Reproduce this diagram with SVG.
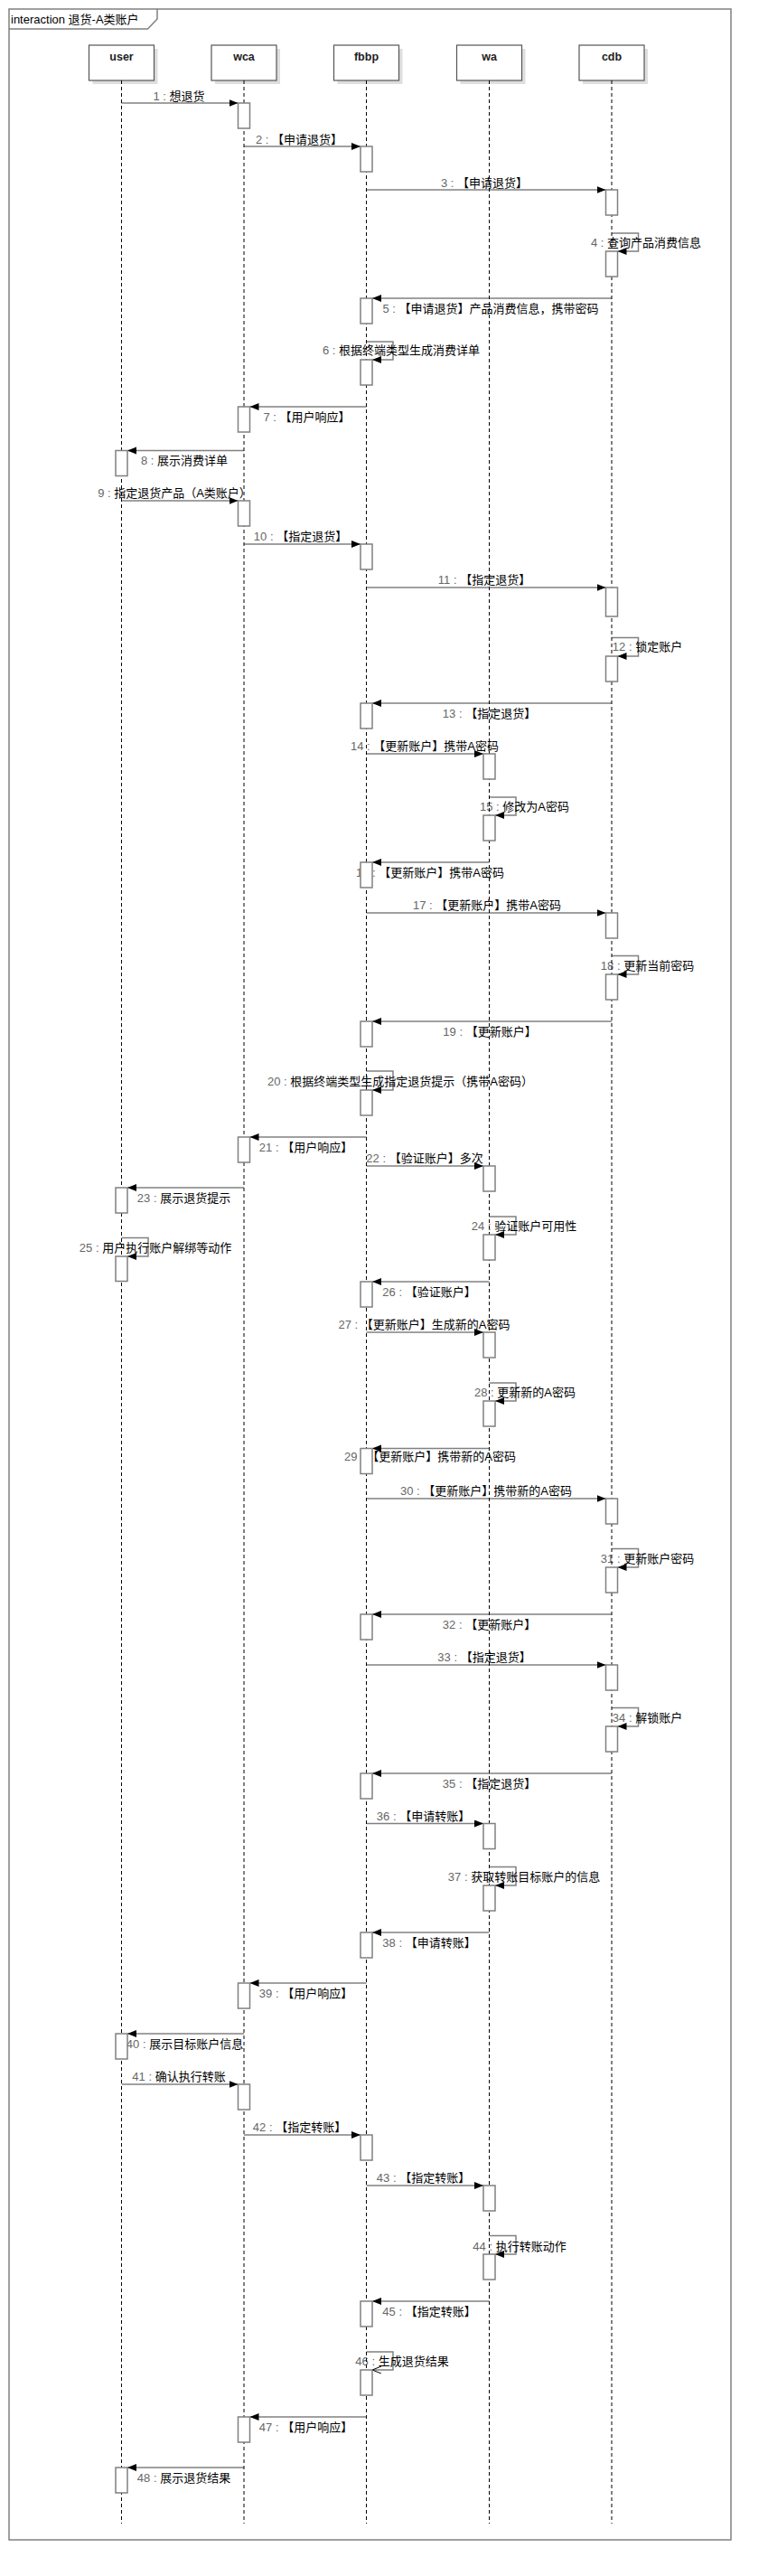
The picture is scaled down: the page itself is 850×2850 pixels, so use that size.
<svg xmlns="http://www.w3.org/2000/svg" width="850" height="2850" viewBox="0 0 850 2850">
<style>
.frame{fill:none;stroke:#808080;stroke-width:1.5}
.head{fill:#fff;stroke:#555;stroke-width:1.2}
.shadow{fill:#dedede}
.hname{font-family:"Liberation Sans","Noto Sans CJK SC",sans-serif;font-size:12.5px;font-weight:bold;fill:#222;text-anchor:middle}
.life{stroke:#000;stroke-width:1;stroke-dasharray:4,3;fill:none}
.act{fill:#fff;stroke:#808080;stroke-width:1.5}
.msg{stroke:#808080;stroke-width:1.5;fill:none;marker-end:url(#ah)}
.msgo{stroke:#808080;stroke-width:1.5;fill:none;marker-end:url(#ao)}
.lbl{font-family:"Liberation Sans","Noto Sans CJK SC",sans-serif;font-size:13px;fill:#000;text-anchor:middle}
.n{fill:#666}
.title{font-family:"Liberation Sans","Noto Sans CJK SC",sans-serif;font-size:13px;fill:#000}
</style>
<defs>
<marker id="ah" markerUnits="userSpaceOnUse" markerWidth="11" markerHeight="9" refX="10" refY="4" orient="auto"><path d="M0,0 L10,4 L0,8 z" fill="#000"/></marker>
<marker id="ao" markerUnits="userSpaceOnUse" markerWidth="11" markerHeight="9" refX="10" refY="4" orient="auto"><path d="M0,0 L10,4 L0,8" fill="none" stroke="#000" stroke-width="1"/></marker>
</defs>
<rect width="850" height="2850" fill="#fff"/>
<g id="frame">
<rect class="frame" x="10" y="10" width="799" height="2800"/>
<path class="frame" d="M10,32 H163.5 L174,21 V10"/>
<text class="title" x="12" y="26">interaction 退货-A类账户</text>
</g>
<g id="connectors">
<line class="msg" x1="134.5" y1="114" x2="263.5" y2="114"/>
<text class="lbl" x="198" y="110.5"><tspan class="n">1 : </tspan>想退货</text>
<line class="msg" x1="270" y1="162" x2="399" y2="162"/>
<text class="lbl" x="331" y="158.5"><tspan class="n">2 : </tspan>【申请退货】</text>
<line class="msg" x1="405.5" y1="210" x2="670.5" y2="210"/>
<text class="lbl" x="536" y="206.5"><tspan class="n">3 : </tspan>【申请退货】</text>
<path class="msg" d="M677,258 H706.5 V278 H683.5"/>
<text class="lbl" x="715" y="272.5"><tspan class="n">4 : </tspan>查询产品消费信息</text>
<line class="msg" x1="677" y1="330" x2="412" y2="330"/>
<text class="lbl" x="543" y="346"><tspan class="n">5 : </tspan>【申请退货】产品消费信息，携带密码</text>
<path class="msg" d="M405.5,378 H435 V398 H412"/>
<text class="lbl" x="444" y="392"><tspan class="n">6 : </tspan>根据终端类型生成消费详单</text>
<line class="msg" x1="405.5" y1="450" x2="276.5" y2="450"/>
<text class="lbl" x="339.5" y="466"><tspan class="n">7 : </tspan>【用户响应】</text>
<line class="msg" x1="270" y1="498.5" x2="141" y2="498.5"/>
<text class="lbl" x="204" y="513.5"><tspan class="n">8 : </tspan>展示消费详单</text>
<line class="msg" x1="134.5" y1="554" x2="263.5" y2="554"/>
<text class="lbl" x="193" y="550"><tspan class="n">9 : </tspan>指定退货产品（A类账户）</text>
<line class="msg" x1="270" y1="602" x2="399" y2="602"/>
<text class="lbl" x="332.5" y="598"><tspan class="n">10 : </tspan>【指定退货】</text>
<line class="msg" x1="405.5" y1="650" x2="670.5" y2="650"/>
<text class="lbl" x="536" y="646"><tspan class="n">11 : </tspan>【指定退货】</text>
<path class="msg" d="M677,705.5 H706.5 V726 H683.5"/>
<text class="lbl" x="716.5" y="720"><tspan class="n">12 : </tspan>锁定账户</text>
<line class="msg" x1="677" y1="778" x2="412" y2="778"/>
<text class="lbl" x="541.5" y="794"><tspan class="n">13 : </tspan>【指定退货】</text>
<line class="msg" x1="405.5" y1="834" x2="535" y2="834"/>
<text class="lbl" x="470" y="830"><tspan class="n">14 : </tspan>【更新账户】携带A密码</text>
<path class="msg" d="M541.5,882 H571 V902 H548"/>
<text class="lbl" x="580.5" y="897"><tspan class="n">15 : </tspan>修改为A密码</text>
<line class="msg" x1="541.5" y1="954" x2="412" y2="954"/>
<text class="lbl" x="476" y="969.5"><tspan class="n">16 : </tspan>【更新账户】携带A密码</text>
<line class="msg" x1="405.5" y1="1010" x2="670.5" y2="1010"/>
<text class="lbl" x="539" y="1006"><tspan class="n">17 : </tspan>【更新账户】携带A密码</text>
<path class="msg" d="M677,1057.5 H706.5 V1078 H683.5"/>
<text class="lbl" x="716.5" y="1073"><tspan class="n">18 : </tspan>更新当前密码</text>
<line class="msg" x1="677" y1="1130" x2="412" y2="1130"/>
<text class="lbl" x="542" y="1145.5"><tspan class="n">19 : </tspan>【更新账户】</text>
<path class="msg" d="M405.5,1185 H435 V1206 H412"/>
<text class="lbl" x="443" y="1201"><tspan class="n">20 : </tspan>根据终端类型生成指定退货提示（携带A密码）</text>
<line class="msg" x1="405.5" y1="1258" x2="276.5" y2="1258"/>
<text class="lbl" x="338.5" y="1274"><tspan class="n">21 : </tspan>【用户响应】</text>
<line class="msg" x1="405.5" y1="1290" x2="535" y2="1290"/>
<text class="lbl" x="470" y="1286"><tspan class="n">22 : </tspan>【验证账户】多次</text>
<line class="msg" x1="270" y1="1314" x2="141" y2="1314"/>
<text class="lbl" x="203.5" y="1330"><tspan class="n">23 : </tspan>展示退货提示</text>
<path class="msg" d="M541.5,1346 H571 V1366 H548"/>
<text class="lbl" x="580" y="1361"><tspan class="n">24 : </tspan>验证账户可用性</text>
<path class="msg" d="M134.5,1369.5 H164 V1390 H141"/>
<text class="lbl" x="172" y="1384.5"><tspan class="n">25 : </tspan>用户执行账户解绑等动作</text>
<line class="msg" x1="541.5" y1="1418" x2="412" y2="1418"/>
<text class="lbl" x="475" y="1434"><tspan class="n">26 : </tspan>【验证账户】</text>
<line class="msg" x1="405.5" y1="1474" x2="535" y2="1474"/>
<text class="lbl" x="469.5" y="1470"><tspan class="n">27 : </tspan>【更新账户】生成新的A密码</text>
<path class="msg" d="M541.5,1530 H571 V1550 H548"/>
<text class="lbl" x="581" y="1544.5"><tspan class="n">28 : </tspan>更新新的A密码</text>
<line class="msg" x1="541.5" y1="1602.5" x2="412" y2="1602.5"/>
<text class="lbl" x="476" y="1615.5"><tspan class="n">29 : </tspan>【更新账户】携带新的A密码</text>
<line class="msg" x1="405.5" y1="1658" x2="670.5" y2="1658"/>
<text class="lbl" x="538" y="1653.5"><tspan class="n">30 : </tspan>【更新账户】携带新的A密码</text>
<path class="msg" d="M677,1713.5 H706.5 V1734 H683.5"/>
<text class="lbl" x="716.5" y="1729"><tspan class="n">31 : </tspan>更新账户密码</text>
<line class="msg" x1="677" y1="1786" x2="412" y2="1786"/>
<text class="lbl" x="541.5" y="1802"><tspan class="n">32 : </tspan>【更新账户】</text>
<line class="msg" x1="405.5" y1="1842" x2="670.5" y2="1842"/>
<text class="lbl" x="536" y="1837.5"><tspan class="n">33 : </tspan>【指定退货】</text>
<path class="msg" d="M677,1889.5 H706.5 V1910 H683.5"/>
<text class="lbl" x="716.5" y="1904.5"><tspan class="n">34 : </tspan>解锁账户</text>
<line class="msg" x1="677" y1="1962" x2="412" y2="1962"/>
<text class="lbl" x="541.5" y="1978"><tspan class="n">35 : </tspan>【指定退货】</text>
<line class="msg" x1="405.5" y1="2017.5" x2="535" y2="2017.5"/>
<text class="lbl" x="468.5" y="2013.5"><tspan class="n">36 : </tspan>【申请转账】</text>
<path class="msg" d="M541.5,2065.5 H571 V2086 H548"/>
<text class="lbl" x="580" y="2081"><tspan class="n">37 : </tspan>获取转账目标账户的信息</text>
<line class="msg" x1="541.5" y1="2138" x2="412" y2="2138"/>
<text class="lbl" x="475" y="2153.5"><tspan class="n">38 : </tspan>【申请转账】</text>
<line class="msg" x1="405.5" y1="2194" x2="276.5" y2="2194"/>
<text class="lbl" x="338.5" y="2209.5"><tspan class="n">39 : </tspan>【用户响应】</text>
<line class="msg" x1="270" y1="2250" x2="141" y2="2250"/>
<text class="lbl" x="204.5" y="2266"><tspan class="n">40 : </tspan>展示目标账户信息</text>
<line class="msg" x1="134.5" y1="2306" x2="263.5" y2="2306"/>
<text class="lbl" x="198" y="2302"><tspan class="n">41 : </tspan>确认执行转账</text>
<line class="msg" x1="270" y1="2362" x2="399" y2="2362"/>
<text class="lbl" x="331.5" y="2357.5"><tspan class="n">42 : </tspan>【指定转账】</text>
<line class="msg" x1="405.5" y1="2418" x2="535" y2="2418"/>
<text class="lbl" x="468.5" y="2413.5"><tspan class="n">43 : </tspan>【指定转账】</text>
<path class="msg" d="M541.5,2473.5 H571 V2494 H548"/>
<text class="lbl" x="575" y="2489.5"><tspan class="n">44 : </tspan>执行转账动作</text>
<line class="msg" x1="541.5" y1="2546" x2="412" y2="2546"/>
<text class="lbl" x="475" y="2562"><tspan class="n">45 : </tspan>【指定转账】</text>
<path class="msgo" d="M405.5,2602 H435 V2622 H412"/>
<text class="lbl" x="445" y="2617"><tspan class="n">46 : </tspan>生成退货结果</text>
<line class="msg" x1="405.5" y1="2674" x2="276.5" y2="2674"/>
<text class="lbl" x="338.5" y="2689.5"><tspan class="n">47 : </tspan>【用户响应】</text>
<line class="msg" x1="270" y1="2730" x2="141" y2="2730"/>
<text class="lbl" x="203.5" y="2746"><tspan class="n">48 : </tspan>展示退货结果</text>
</g>
<g id="user">
<rect class="shadow" x="102.5" y="54" width="72" height="39"/>
<rect class="head" x="98.5" y="50" width="72" height="39"/>
<text class="hname" x="134.5" y="67">user</text>
<line class="life" x1="134.5" y1="89" x2="134.5" y2="2792"/>
<rect class="act" x="128" y="498.5" width="13" height="28"/>
<rect class="act" x="128" y="1314" width="13" height="28"/>
<rect class="act" x="128" y="1390" width="13" height="27.5"/>
<rect class="act" x="128" y="2250" width="13" height="28"/>
<rect class="act" x="128" y="2730" width="13" height="28"/>
</g>
<g id="wca">
<rect class="shadow" x="238" y="54" width="72" height="39"/>
<rect class="head" x="234" y="50" width="72" height="39"/>
<text class="hname" x="270" y="67">wca</text>
<line class="life" x1="270" y1="89" x2="270" y2="2792"/>
<rect class="act" x="263.5" y="114" width="13" height="28"/>
<rect class="act" x="263.5" y="450" width="13" height="28"/>
<rect class="act" x="263.5" y="554" width="13" height="28"/>
<rect class="act" x="263.5" y="1258" width="13" height="28"/>
<rect class="act" x="263.5" y="2194" width="13" height="28"/>
<rect class="act" x="263.5" y="2306" width="13" height="28"/>
<rect class="act" x="263.5" y="2674" width="13" height="28"/>
</g>
<g id="fbbp">
<rect class="shadow" x="373.5" y="54" width="72" height="39"/>
<rect class="head" x="369.5" y="50" width="72" height="39"/>
<text class="hname" x="405.5" y="67">fbbp</text>
<line class="life" x1="405.5" y1="89" x2="405.5" y2="2792"/>
<rect class="act" x="399" y="162" width="13" height="28"/>
<rect class="act" x="399" y="330" width="13" height="28"/>
<rect class="act" x="399" y="398" width="13" height="28"/>
<rect class="act" x="399" y="602" width="13" height="28"/>
<rect class="act" x="399" y="778" width="13" height="28"/>
<rect class="act" x="399" y="954" width="13" height="28"/>
<rect class="act" x="399" y="1130" width="13" height="28"/>
<rect class="act" x="399" y="1206" width="13" height="28"/>
<rect class="act" x="399" y="1418" width="13" height="28"/>
<rect class="act" x="399" y="1602.5" width="13" height="28"/>
<rect class="act" x="399" y="1786" width="13" height="28"/>
<rect class="act" x="399" y="1962" width="13" height="28"/>
<rect class="act" x="399" y="2138" width="13" height="28"/>
<rect class="act" x="399" y="2362" width="13" height="28"/>
<rect class="act" x="399" y="2546" width="13" height="28"/>
<rect class="act" x="399" y="2622" width="13" height="28"/>
</g>
<g id="wa">
<rect class="shadow" x="509.5" y="54" width="72" height="39"/>
<rect class="head" x="505.5" y="50" width="72" height="39"/>
<text class="hname" x="541.5" y="67">wa</text>
<line class="life" x1="541.5" y1="89" x2="541.5" y2="2792"/>
<rect class="act" x="535" y="834" width="13" height="28"/>
<rect class="act" x="535" y="902" width="13" height="28"/>
<rect class="act" x="535" y="1290" width="13" height="28"/>
<rect class="act" x="535" y="1366" width="13" height="28"/>
<rect class="act" x="535" y="1474" width="13" height="28"/>
<rect class="act" x="535" y="1550" width="13" height="28"/>
<rect class="act" x="535" y="2017.5" width="13" height="28"/>
<rect class="act" x="535" y="2086" width="13" height="28"/>
<rect class="act" x="535" y="2418" width="13" height="28"/>
<rect class="act" x="535" y="2494" width="13" height="28"/>
</g>
<g id="cdb">
<rect class="shadow" x="645" y="54" width="72" height="39"/>
<rect class="head" x="641" y="50" width="72" height="39"/>
<text class="hname" x="677" y="67">cdb</text>
<line class="life" x1="677" y1="89" x2="677" y2="2792"/>
<rect class="act" x="670.5" y="210" width="13" height="28"/>
<rect class="act" x="670.5" y="278" width="13" height="28"/>
<rect class="act" x="670.5" y="650" width="13" height="32"/>
<rect class="act" x="670.5" y="726" width="13" height="28"/>
<rect class="act" x="670.5" y="1010" width="13" height="28"/>
<rect class="act" x="670.5" y="1078" width="13" height="28"/>
<rect class="act" x="670.5" y="1658" width="13" height="28"/>
<rect class="act" x="670.5" y="1734" width="13" height="28"/>
<rect class="act" x="670.5" y="1842" width="13" height="28"/>
<rect class="act" x="670.5" y="1910" width="13" height="28"/>
</g>
</svg>
